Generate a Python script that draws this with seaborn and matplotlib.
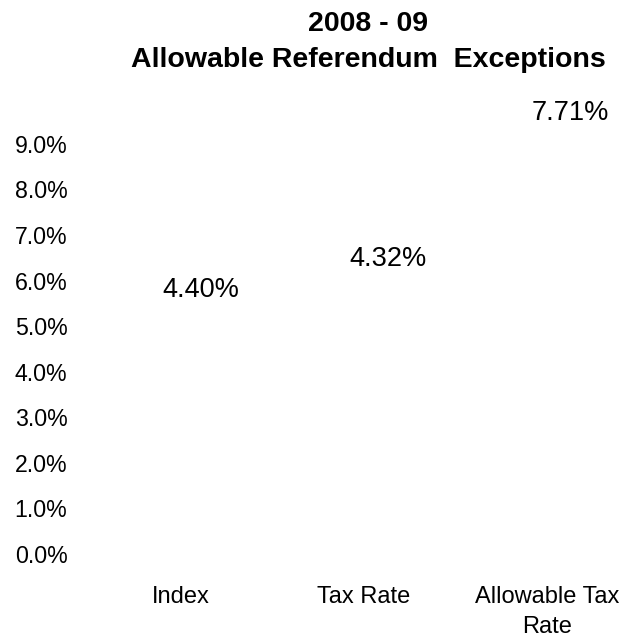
import matplotlib
matplotlib.use("Agg")
import matplotlib.pyplot as plt
import seaborn as sns
import pandas as pd

categories = ["Index", "Tax Rate", "Allowable Tax\nRate"]
values = [4.40, 4.32, 7.71]
value_labels = ["4.40%", "4.32%", "7.71%"]
yticks = [0, 1, 2, 3, 4, 5, 6, 7, 8, 9]
title = "2008 - 09\nAllowable Referendum  Exceptions"

# label placement (layout, in axis units) as seen in the reference
label_y = [5.79, 6.47, 9.68]
label_dx = [0.11, 0.13, 0.13]

sns.set_theme(style="white")
plt.rcParams["font.family"] = ["Liberation Sans Narrow", "Liberation Sans", "DejaVu Sans"]

df = pd.DataFrame({"cat": categories, "val": values})

fig = plt.figure(figsize=(6.25, 6.41), dpi=100)
W, H = 625, 641
ax = fig.add_axes([80 / W, (H - 554) / H, 540 / W, (554 - 90) / H])

sns.barplot(data=df, x="cat", y="val", color="white", edgecolor="none",
            saturation=1, ax=ax, width=0.6)

ax.set_xlim(-0.55, 2.4)
ax.set_ylim(0, 10.18)
ax.set_yticks(yticks)
ax.set_yticklabels([f"{t:.1f}%" for t in yticks])
ax.tick_params(axis="y", length=0, pad=9, labelsize=16.7, labelcolor="black")
ax.tick_params(axis="x", length=0, pad=23, labelsize=17, labelcolor="black")
for lab in ax.get_xticklabels():
    lab.set_linespacing(1.5)
ax.set_xlabel("")
ax.set_ylabel("")
for s in ax.spines.values():
    s.set_visible(False)
ax.grid(False)

for i, (lab, yy, dx) in enumerate(zip(value_labels, label_y, label_dx)):
    ax.text(i + dx, yy, lab, ha="center", va="center", fontsize=19.5, color="black")

fig.text(368 / W, 1 - 11 / H, title, ha="center", va="top", fontsize=20.5,
         fontweight="bold", linespacing=1.5, color="black")

fig.savefig("out.png", dpi=100, facecolor="white")
